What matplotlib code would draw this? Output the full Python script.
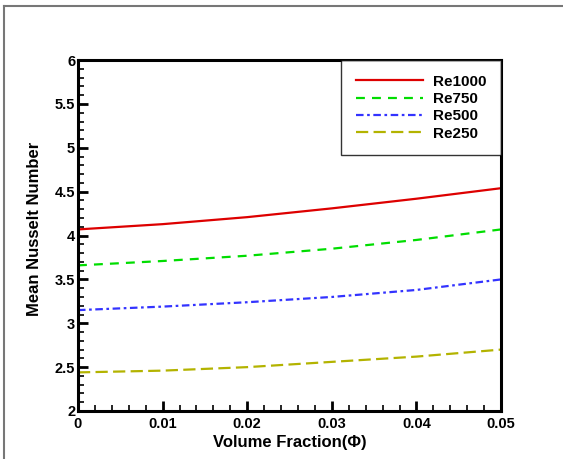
import matplotlib
matplotlib.use("Agg")
import matplotlib.pyplot as plt
from matplotlib.lines import Line2D
from matplotlib.ticker import MultipleLocator

plt.rcParams['font.family'] = ['Liberation Sans', 'DejaVu Sans']
plt.rcParams['font.weight'] = 'bold'

phi = [0.0, 0.01, 0.02, 0.03, 0.04, 0.05]
re1000 = [4.07, 4.13, 4.21, 4.31, 4.42, 4.54]
re750 = [3.66, 3.71, 3.77, 3.85, 3.95, 4.07]
re500 = [3.15, 3.19, 3.24, 3.30, 3.38, 3.50]
re250 = [2.44, 2.46, 2.50, 2.56, 2.62, 2.70]

xticks = [0.0, 0.01, 0.02, 0.03, 0.04, 0.05]
xtick_labels = ['0', '0.01', '0.02', '0.03', '0.04', '0.05']
yticks = [2, 2.5, 3, 3.5, 4, 4.5, 5, 5.5, 6]
ytick_labels = ['2', '2.5', '3', '3.5', '4', '4.5', '5', '5.5', '6']

fig = plt.figure(figsize=(5.63, 4.59), dpi=100)
ax = fig.add_axes([0.1385, 0.1046, 0.7515, 0.7644])

# outer frame (only top and left edges are visible in the crop)
fig.add_artist(Line2D([4/563, 4/563], [0, 1 - 6/459], color='#777777', lw=1.5, transform=fig.transFigure))
fig.add_artist(Line2D([4/563, 1], [1 - 6/459, 1 - 6/459], color='#777777', lw=1.5, transform=fig.transFigure))

ax.plot(phi, re1000, color='#dd0000', lw=1.6, label='Re1000')
ax.plot(phi, re750, color='#00dd00', lw=1.6, dashes=(4, 3.2), label='Re750')
ax.plot(phi, re500, color='#3333ff', lw=1.6, dashes=(3.4, 1.6, 1.2, 1.6), label='Re500')
ax.plot(phi, re250, color='#b3b300', lw=1.6, dashes=(5.5, 2.4), label='Re250')

ax.set_xlim(0, 0.05)
ax.set_ylim(2, 6)
ax.set_xticks(xticks)
ax.set_xticklabels(xtick_labels)
ax.set_yticks(yticks)
ax.set_yticklabels(ytick_labels)
ax.xaxis.set_minor_locator(MultipleLocator(0.002))
ax.yaxis.set_minor_locator(MultipleLocator(0.1))
ax.tick_params(which='major', direction='in', length=7, width=2, labelsize=10.5,
               top=False, right=False)
ax.tick_params(axis='x', which='major', pad=4)
ax.tick_params(axis='y', which='major', pad=2)
ax.tick_params(which='minor', direction='in', length=4, width=1.2, top=False, right=False)
for s in ax.spines.values():
    s.set_linewidth(2.2)

ax.set_xlabel('Volume Fraction(Φ)', fontsize=12, fontweight='bold', labelpad=3)
ax.set_ylabel('Mean Nusselt Number', fontsize=12, fontweight='bold')
ax.yaxis.set_label_coords(-0.085, 0.52)

leg = ax.legend(loc='upper right', bbox_to_anchor=(1.0, 1.0), borderaxespad=0,
                fancybox=False, edgecolor='black', handlelength=4.4, handletextpad=0.65,
                labelspacing=0.22, borderpad=0.95, prop={'weight': 'bold', 'size': 11})
leg.get_frame().set_linewidth(1.0)

fig.savefig('out.png', dpi=100)
